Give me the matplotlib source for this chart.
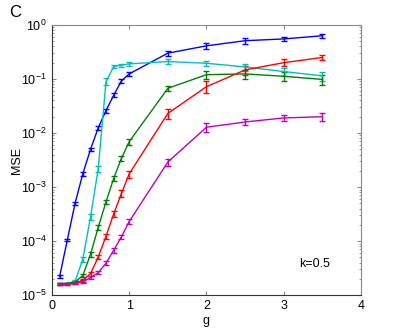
import matplotlib
matplotlib.use("Agg")
import matplotlib.pyplot as plt
from matplotlib.ticker import LogLocator, NullFormatter

plt.rcParams['font.family'] = ['Liberation Sans', 'DejaVu Sans']

g = [0.1, 0.2, 0.3, 0.4, 0.5, 0.6, 0.7, 0.8, 0.9, 1.0, 1.5, 2.0, 2.5, 3.0, 3.5]

mse_blue = [2.2e-5, 1.05e-4, 5.0e-4, 1.75e-3, 5.0e-3, 1.25e-2, 2.6e-2, 5.0e-2,
            9.2e-2, 0.124, 0.30, 0.41, 0.51, 0.55, 0.63]
mse_cyan = [1.65e-5, 1.65e-5, 1.8e-5, 4.6e-5, 2.8e-4, 2.2e-3, 0.089, 0.17,
            0.18, 0.19, 0.21, 0.195, 0.167, 0.137, 0.114]
mse_green = [1.6e-5, 1.65e-5, 1.75e-5, 2.3e-5, 5.7e-5, 1.8e-4, 5.3e-4, 1.45e-3,
             3.4e-3, 6.9e-3, 0.067, 0.12, 0.124, 0.112, 0.098]
mse_red = [1.6e-5, 1.6e-5, 1.65e-5, 1.9e-5, 2.5e-5, 5.1e-5, 1.23e-4, 3.2e-4,
           7.6e-4, 1.75e-3, 0.023, 0.072, 0.147, 0.20, 0.25]
mse_mag = [1.6e-5, 1.6e-5, 1.65e-5, 1.8e-5, 2.1e-5, 2.6e-5, 3.9e-5, 6.8e-5,
           1.2e-4, 2.3e-4, 2.9e-3, 0.0128, 0.016, 0.019, 0.020]

# relative error (fraction of value)
rel_blue = [0.05, 0.05, 0.06, 0.07, 0.07, 0.08, 0.08, 0.08, 0.1, 0.1, 0.12, 0.12, 0.12, 0.1, 0.08]
rel_cyan = [0.03, 0.03, 0.05, 0.1, 0.12, 0.12, 0.15, 0.06, 0.06, 0.07, 0.1, 0.12, 0.15, 0.18, 0.2]
rel_green = [0.03, 0.03, 0.05, 0.07, 0.1, 0.1, 0.1, 0.12, 0.12, 0.12, 0.12, 0.18, 0.2, 0.18, 0.2]
rel_red = [0.03, 0.03, 0.04, 0.06, 0.08, 0.1, 0.12, 0.12, 0.15, 0.15, 0.2, 0.25, 0.18, 0.15, 0.12]
rel_mag = [0.03, 0.03, 0.04, 0.05, 0.06, 0.07, 0.08, 0.1, 0.1, 0.1, 0.15, 0.18, 0.12, 0.12, 0.15]

series = [
    (mse_blue, rel_blue, '#0000ff'),
    (mse_cyan, rel_cyan, '#00bfbf'),
    (mse_green, rel_green, '#008000'),
    (mse_red, rel_red, '#ff0000'),
    (mse_mag, rel_mag, '#bf00bf'),
]

fig = plt.figure(figsize=(3.99, 3.32), dpi=100)
ax = fig.add_axes([0.130, 0.111, 0.775, 0.814])

for y, rel, c in series:
    err = [v * r for v, r in zip(y, rel)]
    ax.errorbar(g, y, yerr=err, color=c, lw=1.0, elinewidth=1.0,
                capsize=2.5, capthick=1.0)

ax.set_yscale('log')
ax.set_xlim(0, 4)
ax.set_ylim(1e-5, 1)
ax.set_xticks([0, 1, 2, 3, 4])
ax.yaxis.set_major_locator(LogLocator(base=10, numticks=10))
ax.yaxis.set_minor_locator(LogLocator(base=10, subs=range(2, 10), numticks=10))
ax.yaxis.set_minor_formatter(NullFormatter())
ax.tick_params(which='both', direction='in', top=True, right=True,
               labelsize=9, color='#888888')
ax.tick_params(which='major', length=3)
ax.tick_params(which='minor', length=1.5)
for side in ['top', 'right']:
    ax.spines[side].set_color('#888888')
for side in ['left', 'bottom']:
    ax.spines[side].set_color('#333333')

ax.set_xlabel('g', fontsize=9, labelpad=2)
ax.set_ylabel('MSE', fontsize=9, labelpad=-1)
ax.text(3.2, 10 ** -4.43, 'k=0.5', fontsize=9, va='center', ha='left')
fig.text(0.022, 0.963, 'C', fontsize=12, va='center', ha='left')

fig.savefig('out.png', dpi=100)
